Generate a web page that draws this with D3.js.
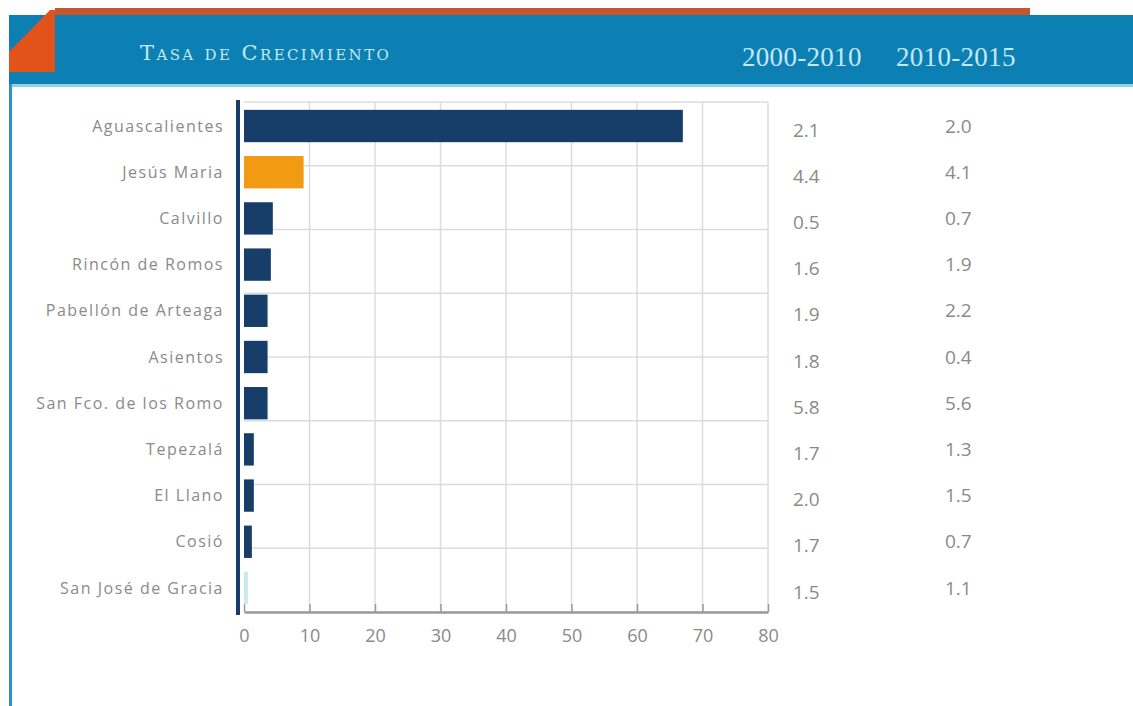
<!DOCTYPE html>
<html>
<head>
<meta charset="utf-8">
<script src="https://cdn.jsdelivr.net/npm/d3@7"></script>
<style>
  body { margin: 0; background: #fff; }
  svg { display: block; }
</style>
</head>
<body>
<svg id="grafico" width="1133" height="706"></svg>
<script>
// datos del grafico
const municipios = ["Aguascalientes", "Jesús Maria", "Calvillo", "Rincón de Romos", "Pabellón de Arteaga",
  "Asientos", "San Fco. de los Romo", "Tepezalá", "El Llano", "Cosió", "San José de Gracia"];
const valores = [67, 9.1, 4.4, 4.1, 3.6, 3.6, 3.6, 1.5, 1.5, 1.2, 0.6];
const tasa2000_2010 = [2.1, 4.4, 0.5, 1.6, 1.9, 1.8, 5.8, 1.7, 2.0, 1.7, 1.5];
const tasa2010_2015 = [2.0, 4.1, 0.7, 1.9, 2.2, 0.4, 5.6, 1.3, 1.5, 0.7, 1.1];
const periodos = ["2000-2010", "2010-2015"];
const xTicks = [0, 10, 20, 30, 40, 50, 60, 70, 80];
const titulo = "Tasa de Crecimiento";

window.addEventListener("DOMContentLoaded", () => {
  const svg = d3.select("#grafico");
  const width = +svg.attr("width");
  const height = +svg.attr("height");

  // encabezado
  svg.append("rect")
    .attr("x", 55).attr("y", 8).attr("width", 975).attr("height", 8)
    .attr("fill", "#c9552d");
  svg.append("rect")
    .attr("x", 9).attr("y", 15).attr("width", width - 9).attr("height", 69)
    .attr("fill", "#0c80b2");
  svg.append("rect")
    .attr("x", 9).attr("y", 84).attr("width", width - 9).attr("height", 3)
    .attr("fill", "#8fd0ea");
  svg.append("path")
    .attr("d", "M9,52 L50,10 L55,10 L55,72 L9,72 Z")
    .attr("fill", "#e2531c");
  // borde izquierdo
  svg.append("rect")
    .attr("x", 9).attr("y", 84).attr("width", 3).attr("height", height - 84)
    .attr("fill", "#2b93c6");

  svg.append("text")
    .attr("x", 140)
    .attr("y", 60)
    .attr("font-family", "'DejaVu Serif', serif")
    .attr("font-size", "21px")
    .attr("font-variant", "small-caps")
    .attr("letter-spacing", "2.4px")
    .attr("fill", "#c4e8f6")
    .text(titulo);

  const colX = [742, 896];
  periodos.forEach((p, i) => {
    svg.append("text")
      .attr("x", colX[i])
      .attr("y", 66)
      .attr("font-family", "'Liberation Serif', serif")
      .attr("font-size", "27px")
      .attr("letter-spacing", "0.3px")
      .attr("fill", "#c4e8f6")
      .text(p);
  });

  // area del grafico
  const x = d3.scaleLinear()
    .domain([0, 80])
    .range([244, 768]);

  const y = d3.scaleBand()
    .domain(municipios)
    .range([102, 612])
    .paddingInner(0.3)
    .paddingOuter(0.17);

  const yGrid = d3.scaleLinear().domain([0, 8]).range([102, 612]);

  const g = svg.append("g");

  // rejilla
  g.selectAll(".hgrid")
    .data(yGrid.ticks(8))
    .enter()
    .append("line")
    .attr("x1", x(0)).attr("x2", x(80))
    .attr("y1", d => yGrid(d)).attr("y2", d => yGrid(d))
    .attr("stroke", "#dcdcdc")
    .attr("stroke-width", 1.5);

  g.selectAll(".vgrid")
    .data(xTicks.slice(1))
    .enter()
    .append("line")
    .attr("x1", d => x(d)).attr("x2", d => x(d))
    .attr("y1", 102).attr("y2", 612)
    .attr("stroke", "#dcdcdc")
    .attr("stroke-width", 1.5);

  // eje x
  const xAxis = g.append("g")
    .attr("transform", "translate(0,612)")
    .call(d3.axisBottom(x).tickValues(xTicks).tickSizeInner(-8).tickSizeOuter(0).tickPadding(17));
  xAxis.select(".domain").attr("stroke", "#9a9a9a").attr("stroke-width", 2.5);
  xAxis.selectAll(".tick line").attr("stroke", "#9a9a9a").attr("stroke-width", 1.5);
  xAxis.selectAll(".tick text")
    .attr("font-family", "'Open Sans', sans-serif")
    .attr("font-size", "18px")
    .attr("fill", "#8a8a8a");

  // barras
  g.selectAll(".bar")
    .data(municipios)
    .enter()
    .append("rect")
    .attr("class", "bar")
    .attr("x", x(0))
    .attr("y", d => y(d))
    .attr("width", (d, i) => x(valores[i]) - x(0))
    .attr("height", y.bandwidth())
    .attr("fill", d => d === "Jesús Maria" ? "#f29a12" : d === "San José de Gracia" ? "#cde7ef" : "#173e68");

  // eje y
  g.append("line")
    .attr("x1", 238).attr("x2", 238)
    .attr("y1", 100).attr("y2", 615)
    .attr("stroke", "#173e68")
    .attr("stroke-width", 4);

  g.selectAll(".label")
    .data(municipios)
    .enter()
    .append("text")
    .attr("x", 224)
    .attr("y", d => y(d) + y.bandwidth() / 2)
    .attr("dy", "0.35em")
    .attr("text-anchor", "end")
    .attr("font-family", "'Open Sans', sans-serif")
    .attr("font-size", "16px")
    .attr("letter-spacing", "1.5px")
    .attr("fill", "#8a8a8a")
    .text(d => d);

  // tasas
  [tasa2000_2010, tasa2010_2015].forEach((serie, k) => {
    g.selectAll(".tasa" + k)
      .data(serie)
      .enter()
      .append("text")
      .attr("x", [793, 945][k])
      .attr("y", (d, i) => y(municipios[i]) + y.bandwidth() / 2 + [4, 0][k])
      .attr("dy", "0.35em")
      .attr("font-family", "'Open Sans', sans-serif")
      .attr("font-size", "19px")
      .attr("fill", "#8a8a8a")
      .text(d => d.toFixed(1));
  });
});
</script>
</body>
</html>
